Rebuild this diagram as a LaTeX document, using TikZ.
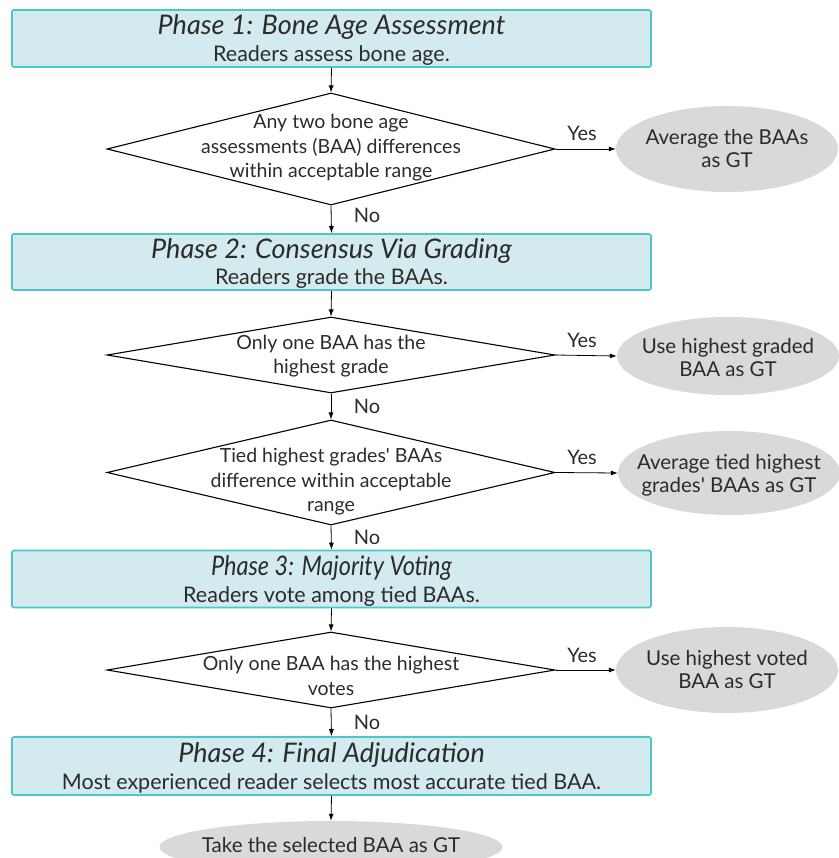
\documentclass[tikz,border=0pt]{standalone}
\usepackage{fontspec}
\setmainfont{Lato}
\usetikzlibrary{shapes.geometric,arrows.meta}
\definecolor{boxfill}{HTML}{D3EBEF}
\definecolor{boxline}{HTML}{4CC6CA}
\definecolor{ellfill}{HTML}{D9D9D9}
\definecolor{txt}{HTML}{2B2B2B}
\tikzset{
  phase/.style={draw=boxline, line width=1.6pt, fill=boxfill, rounded corners=1.5pt,
    minimum width=639pt, inner sep=0pt},
  ttl/.style={anchor=base, inner sep=0pt, text=txt, font=\fontsize{27}{30}\selectfont\itshape},
  sub/.style={anchor=base, inner sep=0pt, text=txt, font=\fontsize{21.5}{24}\selectfont},
  dia/.style={draw=black, line width=1.1pt, shape=diamond, inner sep=0pt},
  dtext/.style={align=center, font=\fontsize{19.5}{24.5}\selectfont, text=txt, inner sep=0pt},
  gt/.style={ellipse, fill=ellfill, inner sep=0pt},
  gtext/.style={align=center, font=\fontsize{20.5}{23}\selectfont, text=txt, inner sep=0pt},
  arr/.style={-{Latex[length=7pt,width=5pt]}, line width=0.8pt},
  lbl/.style={font=\fontsize{20}{22}\selectfont, text=txt, inner sep=0pt}
}
\begin{document}
\begin{tikzpicture}[x=1pt,y=-1pt]
\useasboundingbox (0,0) rectangle (838,858);
% phase 1
\node[phase, minimum height=57pt] (b1) at (331.5,38.5) {};
\node[ttl] (b1t) at ([yshift=3.5pt]b1.center) {Phase 1: Bone Age Assessment};
\node[sub] (b1s) at ([yshift=-23pt]b1.center) {Readers assess bone age.};
\node[dia, minimum width=448pt, minimum height=112pt] (d1) at (331,149) {};
\node[dtext] (t1) at (331,148) {Any two bone age\\assessments (BAA) differences\\within acceptable range};
\node[gt, minimum width=222pt, minimum height=86pt] (e1) at (727,149) {};
\node[gtext] (g1) at (e1) {Average the BAAs\\as GT};
% phase 2
\node[phase, minimum height=56pt] (b2) at (331.5,262) {};
\node[ttl] (b2t) at ([yshift=3.5pt]b2.center) {Phase 2: Consensus Via Grading};
\node[sub] (b2s) at ([yshift=-22.5pt]b2.center) {Readers grade the BAAs.};
\node[dia, minimum width=448pt, minimum height=76pt] (d2) at (331,355) {};
\node[dtext] (t2) at (331,356) {Only one BAA has the\\highest grade};
\node[gt, minimum width=222pt, minimum height=78pt] (e2) at (728,356) {};
\node[gtext] (g2) at (728,358) {Use highest graded\\BAA as GT};
\node[dia, minimum width=448pt, minimum height=105pt] (d3) at (331,472.5) {};
\node[dtext] (t3) at (331,482) {Tied highest grades\textquotesingle{} BAAs\\difference within acceptable\\range};
\node[gt, minimum width=222pt, minimum height=84pt] (e3) at (729,473) {};
\node[gtext] (g3) at (729,475) {Average tied highest\\grades\textquotesingle{} BAAs as GT};
% phase 3
\node[phase, minimum height=57pt] (b3) at (331.5,579) {};
\node[ttl] (b3t) at ([yshift=3.5pt]b3.center) {\scalebox{0.87}[1]{Phase 3: Majority Voting}};
\node[sub] (b3s) at ([yshift=-23pt]b3.center) {Readers vote among tied BAAs.};
\node[dia, minimum width=448pt, minimum height=76pt] (d4) at (331,670) {};
\node[dtext] (t4) at (331,676) {Only one BAA has the highest\\votes};
\node[gt, minimum width=222pt, minimum height=86pt] (e4) at (727,670) {};
\node[gtext] (g4) at (e4) {Use highest voted\\BAA as GT};
% phase 4
\node[phase, minimum height=58pt] (b4) at (331.5,766) {};
\node[ttl] (b4t) at ([yshift=3.5pt]b4.center) {Phase 4: Final Adjudication};
\node[sub] (b4s) at ([yshift=-23pt]b4.center) {Most experienced reader selects most accurate tied BAA.};
\node[gt, minimum width=343pt, minimum height=52pt] (e5) at (331,847) {};
\node[gtext] (g5) at (331,845) {Take the selected BAA as GT};
% connectors
\draw[arr] (b1.south) -- (d1.north);
\draw[arr] (d1.south) -- (b2.north);
\draw[arr] (b2.south) -- (d2.north);
\draw[arr] (d2.south) -- (d3.north);
\draw[arr] (d3.south) -- (b3.north);
\draw[arr] (b3.south) -- (d4.north);
\draw[arr] (d4.south) -- (b4.north);
\draw[arr] (b4.south) -- (e5.north);
\draw[arr] (d1.east) -- (e1.west);
\draw[arr] (d2.east) -- (e2.west);
\draw[arr] (d3.east) -- (e3.west);
\draw[arr] (d4.east) -- (e4.west);
% labels
\node[lbl] (y1) at (582,133) {Yes};
\node[lbl] (y2) at (582,340) {Yes};
\node[lbl] (y3) at (582,457) {Yes};
\node[lbl] (y4) at (582,655) {Yes};
\node[lbl] (n1) at (367,215) {No};
\node[lbl] (n2) at (367,406) {No};
\node[lbl] (n3) at (367,537) {No};
\node[lbl] (n4) at (367,722) {No};
\end{tikzpicture}
\end{document}
